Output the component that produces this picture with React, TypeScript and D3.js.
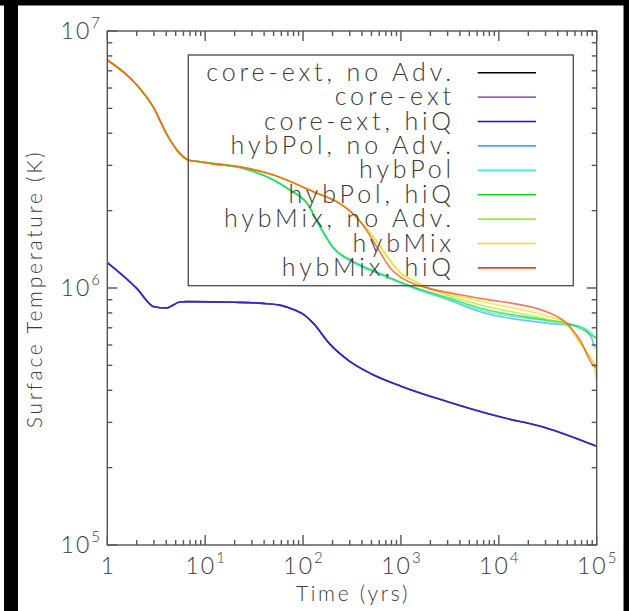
import * as d3 from "d3";

// plot frame (pixels)
const frame = { left: 107.3, right: 596.7, top: 31, bottom: 545 };

const xDomain = [1, 1e5];
const yDomain = [1e5, 1e7];

const legendNames = [
  "core-ext, no Adv.",
  "core-ext",
  "core-ext, hiQ",
  "hybPol, no Adv.",
  "hybPol",
  "hybPol, hiQ",
  "hybMix, no Adv.",
  "hybMix",
  "hybMix, hiQ",
];
const lineColors = [
  "#000000",
  "#9b62c8",
  "#1010f0",
  "#3aa8ff",
  "#3aeed8",
  "#10e010",
  "#9aee3a",
  "#ffdc00",
  "#ff3c10",
];

// core-ext runs (all three lie on top of each other)
const coreTime = [1, 2, 3, 4, 5.5, 6.5, 20, 39, 58, 86, 101, 127, 188, 295, 495, 1000, 3000, 10000, 30000, 100000];
const coreTemp = [1.255e6, 9.97e5, 8.45e5, 8.36e5, 8.82e5, 8.85e5, 8.8e5, 8.71e5, 8.58e5, 8.15e5, 7.9e5, 7.3e5, 6.05e5, 5.21e5, 4.64e5, 4.15e5, 3.61e5, 3.16e5, 2.86e5, 2.42e5];

// hybPol runs
const hybPolNoAdvTime = [1, 2, 3, 4, 5.5, 6.7, 8.85, 12, 22.7, 49.6, 73.5, 109, 149, 203, 326, 611, 1336, 2930, 6410, 30800, 67400, 89000, 93000, 100000];
const hybPolNoAdvTemp = [7.71e6, 6.17e6, 5.0e6, 4.0e6, 3.34e6, 3.15e6, 3.1e6, 3.05e6, 2.94e6, 2.63e6, 2.4e6, 2.14e6, 1.73e6, 1.43e6, 1.26e6, 1.13e6, 1.0e6, 9.05e5, 8.09e5, 7.3e5, 7.07e5, 6.37e5, 6.0e5, 5.82e5];
const hybPolTime = [1, 2, 3, 4, 5.5, 6.7, 8.85, 12, 22.7, 49.6, 73.5, 109, 149, 203, 326, 611, 1336, 2930, 6410, 30800, 67400, 96000, 100000];
const hybPolTemp = [7.71e6, 6.17e6, 5.0e6, 4.0e6, 3.34e6, 3.15e6, 3.1e6, 3.05e6, 2.94e6, 2.63e6, 2.4e6, 2.14e6, 1.73e6, 1.43e6, 1.26e6, 1.135e6, 1.005e6, 9.1e5, 8.2e5, 7.45e5, 7.1e5, 6.45e5, 6.3e5];
const hybPolHiQTime = [1, 2, 3, 4, 5.5, 6.7, 8.85, 12, 22.7, 49.6, 73.5, 109, 149, 203, 326, 611, 1336, 2930, 6410, 30800, 49300, 79000, 96000, 100000];
const hybPolHiQTemp = [7.71e6, 6.17e6, 5.0e6, 4.0e6, 3.34e6, 3.15e6, 3.1e6, 3.06e6, 2.95e6, 2.64e6, 2.41e6, 2.15e6, 1.74e6, 1.44e6, 1.27e6, 1.14e6, 1.01e6, 9.2e5, 8.34e5, 7.51e5, 7.29e5, 6.76e5, 6.43e5, 6.4e5];

// hybMix runs
const hybMixNoAdvTime = [1, 2, 3, 4, 5.5, 6.7, 8.85, 12, 22.7, 50, 127, 238, 352, 565, 772, 1000, 1336, 1700, 6410, 30800, 49300, 67400, 89000, 94000, 100000];
const hybMixNoAdvTemp = [7.71e6, 6.17e6, 5.0e6, 4.0e6, 3.34e6, 3.15e6, 3.1e6, 3.04e6, 2.96e6, 2.75e6, 2.37e6, 2.13e6, 1.88e6, 1.52e6, 1.28e6, 1.14e6, 1.07e6, 1.02e6, 8.6e5, 7.57e5, 7.17e5, 6.11e5, 5.25e5, 5.05e5, 4.35e5];
const hybMixTime = [1, 2, 3, 4, 5.5, 6.7, 8.85, 12, 22.7, 50, 127, 238, 352, 565, 772, 1000, 1336, 1700, 6410, 30800, 49300, 67400, 100000];
const hybMixTemp = [7.71e6, 6.17e6, 5.0e6, 4.0e6, 3.34e6, 3.15e6, 3.1e6, 3.04e6, 2.96e6, 2.75e6, 2.37e6, 2.13e6, 1.88e6, 1.52e6, 1.28e6, 1.14e6, 1.07e6, 1.02e6, 8.9e5, 7.78e5, 7.29e5, 6.17e5, 4.94e5];
const hybMixHiQTime = [1, 2, 3, 4, 5.5, 6.7, 8.85, 12, 22.7, 50, 127, 238, 300, 400, 565, 772, 1000, 1336, 1700, 6410, 30800, 49300, 67400, 96000, 100000];
const hybMixHiQTemp = [7.71e6, 6.17e6, 5.0e6, 4.0e6, 3.34e6, 3.15e6, 3.1e6, 3.04e6, 2.96e6, 2.75e6, 2.37e6, 2.13e6, 2.0e6, 1.78e6, 1.45e6, 1.2e6, 1.1e6, 1.04e6, 1.01e6, 9.12e5, 8.09e5, 7.29e5, 6.28e5, 4.94e5, 4.93e5];

const seriesTimes = [coreTime, coreTime, coreTime, hybPolNoAdvTime, hybPolTime, hybPolHiQTime, hybMixNoAdvTime, hybMixTime, hybMixHiQTime];
const seriesTemps = [coreTemp, coreTemp, coreTemp, hybPolNoAdvTemp, hybPolTemp, hybPolHiQTemp, hybMixNoAdvTemp, hybMixTemp, hybMixHiQTemp];

const axisColor = "#555";
const textColor = "#3a3a3a";
const font = "Lato, 'DejaVu Sans', sans-serif";

export default function App() {
  const x = d3.scaleLog().domain(xDomain).range([frame.left, frame.right]);
  const y = d3.scaleLog().domain(yDomain).range([frame.bottom, frame.top]);

  const line = d3
    .line<[number, number]>()
    .x((d) => x(d[0]))
    .y((d) => y(d[1]))
    .curve(d3.curveMonotoneX);

  const xTicks = x.ticks();
  const yTicks = y.ticks();
  const isMajor = (v: number) => Math.abs(Math.log10(v) - Math.round(Math.log10(v))) < 1e-9;

  const legend = { left: 188.3, top: 55, right: 573.3, bottom: 285.7, row0: 72.7, step: 24.4, textRight: 455, l0: 477.7, l1: 536 };

  return (
    <svg width={629} height={611} style={{ position: "absolute", left: 0, top: 0, background: "#fff" }} fontFamily={font}>
      <rect x={0} y={0} width={629} height={611} fill="#fff" />
      {/* black edges of the original screenshot */}
      <rect x={0} y={0} width={629} height={5.5} fill="#000" />
      <rect x={4} y={0} width={14} height={611} fill="#000" />
      <rect x={623.5} y={0} width={5.5} height={611} fill="#000" />

      {/* data lines */}
      <g fill="none" strokeWidth={1.6} strokeOpacity={0.72} strokeLinejoin="round">
        {seriesTimes.map((ts, i) => (
          <path key={i} d={line(ts.map((t, j) => [t, seriesTemps[i][j]]) as [number, number][]) || ""} stroke={lineColors[i]} />
        ))}
      </g>

      {/* frame + ticks */}
      <g stroke={axisColor} strokeWidth={1.4}>
        <rect x={frame.left} y={frame.top} width={frame.right - frame.left} height={frame.bottom - frame.top} fill="none" />
        {xTicks.map((v, i) => {
          const len = isMajor(v) ? 10 : 5;
          return (
            <g key={"x" + i}>
              <line x1={x(v)} x2={x(v)} y1={frame.bottom} y2={frame.bottom - len} />
              <line x1={x(v)} x2={x(v)} y1={frame.top} y2={frame.top + len} />
            </g>
          );
        })}
        {yTicks.map((v, i) => {
          const len = isMajor(v) ? 10 : 5;
          return (
            <g key={"y" + i}>
              <line x1={frame.left} x2={frame.left + len} y1={y(v)} y2={y(v)} />
              <line x1={frame.right} x2={frame.right - len} y1={y(v)} y2={y(v)} />
            </g>
          );
        })}
      </g>

      {/* tick labels */}
      <g fill={textColor} fontSize={23} fontWeight={300} letterSpacing={2}>
        {xTicks.filter(isMajor).map((v, i) => {
          const e = Math.round(Math.log10(v));
          return (
            <text key={"xl" + i} x={x(v) + 1} y={574} textAnchor="middle">
              {e === 0 ? (
                "1"
              ) : (
                <>
                  10<tspan fontSize={15} dy={-11}>{e}</tspan>
                </>
              )}
            </text>
          );
        })}
        {yTicks.filter(isMajor).map((v, i) => {
          const e = Math.round(Math.log10(v));
          return (
            <text key={"yl" + i} x={102} y={y(v) + 8} textAnchor="end">
              10<tspan fontSize={15} dy={-11}>{e}</tspan>
            </text>
          );
        })}
      </g>

      {/* axis titles */}
      <g fill={textColor} fontSize={21} fontWeight={300} letterSpacing={2.7}>
        <text x={(frame.left + frame.right) / 2 + 1} y={601} textAnchor="middle">Time (yrs)</text>
        <text transform={`translate(42,${(frame.top + frame.bottom) / 2 + 1}) rotate(-90)`} textAnchor="middle">Surface Temperature (K)</text>
      </g>

      {/* legend */}
      <rect x={legend.left} y={legend.top} width={legend.right - legend.left} height={legend.bottom - legend.top} fill="none" stroke={axisColor} strokeWidth={1.4} />
      {legendNames.map((name, i) => {
        const ry = legend.row0 + i * legend.step;
        return (
          <g key={"lg" + i}>
            <text x={legend.textRight} y={ry + 8} textAnchor="end" fontSize={25} fontWeight={300} letterSpacing={3.9} fill={textColor}>{name}</text>
            <line x1={legend.l0} x2={legend.l1} y1={ry} y2={ry} stroke={lineColors[i]} strokeWidth={1.6} />
          </g>
        );
      })}
    </svg>
  );
}
